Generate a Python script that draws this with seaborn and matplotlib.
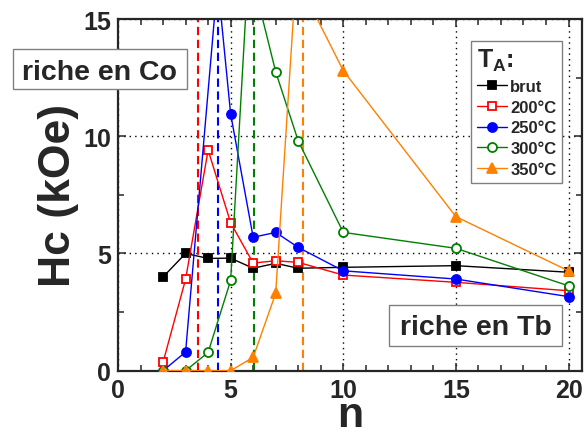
import numpy as np
import pandas as pd
import matplotlib
matplotlib.use("Agg")
import matplotlib.pyplot as plt
import seaborn as sns
from matplotlib.patches import Rectangle
from matplotlib.ticker import MultipleLocator

# Hc (kOe) vs n, for each annealing temperature
n_brut = [2, 3, 4, 5, 6, 7, 8, 10, 15, 20]
hc_brut = [4.0, 5.0, 4.79, 4.8, 4.37, 4.58, 4.37, 4.41, 4.48, 4.2]

n_200 = [2, 3, 4, 5, 6, 7, 8, 10, 15, 20]
hc_200 = [0.36, 3.9, 9.41, 6.31, 4.59, 4.69, 4.62, 4.08, 3.77, 3.41]

n_250 = [2, 3, 4.42, 5, 6, 7, 8, 10, 15, 20]
hc_250 = [0.0, 0.8, 16.6, 10.95, 5.69, 5.9, 5.26, 4.26, 3.91, 3.16]

n_300 = [2, 3, 4, 5, 5.8, 7, 8, 10, 15, 20]
hc_300 = [0.0, 0.0, 0.78, 3.85, 17.4, 12.75, 9.8, 5.9, 5.22, 3.62]

n_350 = [2, 3, 4, 5, 6, 7, 7.9, 10, 15, 20]
hc_350 = [0.0, 0.0, 0.0, 0.0, 0.57, 3.3, 16.8, 12.8, 6.57, 4.26]

labels = ["brut", "200°C", "250°C", "300°C", "350°C"]
colors = ["black", "#FF0000", "#0000FF", "#008000", "#FF8000"]
markers = ["s", "s", "o", "o", "^"]
filled = [True, False, True, False, True]
msizes = [6, 6, 6.5, 6.5, 7]

# compensation composition for each anneal (dashed lines)
n_comp = [3.54, 4.46, 6.03, 8.2]
comp_colors = ["#FF0000", "#0000FF", "#008000", "#FF8000"]

series = [(n_brut, hc_brut), (n_200, hc_200), (n_250, hc_250),
          (n_300, hc_300), (n_350, hc_350)]

sns.set_style("ticks")
plt.rcParams["font.family"] = ["Liberation Sans", "DejaVu Sans"]
plt.rcParams["font.weight"] = "bold"
plt.rcParams["mathtext.fontset"] = "custom"
plt.rcParams["mathtext.bf"] = "Liberation Sans:bold"
plt.rcParams["mathtext.rm"] = "Liberation Sans:bold"
plt.rcParams["mathtext.default"] = "bf"

fig = plt.figure(figsize=(5.86, 4.35), dpi=100)
ax = fig.add_axes([0.2014, 0.1455, 0.7918, 0.8085])

for xv, c in zip(n_comp, comp_colors):
    ln = ax.axvline(xv, color=c, lw=1.5, zorder=1)
    ln.set_dashes([4, 2.2])

for (x, y), lab, c, m, f, ms in zip(series, labels, colors, markers, filled, msizes):
    df = pd.DataFrame({"n": x, "Hc": y})
    sns.lineplot(data=df, x="n", y="Hc", ax=ax, color=c, lw=1.0,
                 marker=m, markersize=ms, markeredgecolor=c,
                 markerfacecolor=c if f else "white", markeredgewidth=1.3,
                 label=lab, zorder=3)

ax.set_xlim(0, 20.6)
ax.set_ylim(0, 15)
ax.xaxis.set_major_locator(MultipleLocator(5))
ax.xaxis.set_minor_locator(MultipleLocator(1))
ax.yaxis.set_major_locator(MultipleLocator(5))
ax.yaxis.set_minor_locator(MultipleLocator(2.5))
ax.grid(True, which="major", color="black", lw=1.0, linestyle=(0, (1, 3)))
ax.set_axisbelow(True)

ax.tick_params(which="both", direction="in", top=True, right=True, width=1.1)
ax.tick_params(which="major", length=6, labelsize=18, pad=5)
ax.tick_params(which="minor", length=4)
for lbl in ax.get_xticklabels() + ax.get_yticklabels():
    lbl.set_fontweight("bold")
for sp in ax.spines.values():
    sp.set_linewidth(1.6)

ax.set_xlabel("n", fontsize=31, fontweight="bold")
ax.xaxis.label.set_va("baseline")
ax.xaxis.set_label_coords(0.5, -0.157)
ax.set_ylabel("Hc (kOe)", fontsize=32, fontweight="bold", labelpad=3)

leg = ax.legend(title="T$_A$:", loc="upper right", bbox_to_anchor=(0.9575, 0.9366),
                borderaxespad=0, fancybox=False, edgecolor="#808080",
                framealpha=1, fontsize=12, title_fontsize=18,
                handlelength=1.8, labelspacing=0.34, handletextpad=0.2,
                borderpad=0.35, alignment="left")
leg.get_frame().set_linewidth(1.0)
for t in leg.get_texts():
    t.set_fontweight("bold")
leg.get_title().set_fontweight("bold")

# framed annotations
fig.patches.append(Rectangle((0.0217, 0.7931), 0.298, 0.092, transform=fig.transFigure,
                             facecolor="white", edgecolor="#808080", lw=1.0, zorder=9))
fig.text(0.1706, 0.816, "riche en Co", fontsize=20.5, fontweight="bold",
         ha="center", va="baseline", zorder=10)
fig.patches.append(Rectangle((0.6643, 0.203), 0.2942, 0.0936, transform=fig.transFigure,
                             facecolor="white", edgecolor="#808080", lw=1.0, zorder=9))
fig.text(0.8114, 0.2299, "riche en Tb", fontsize=20.5, fontweight="bold",
         ha="center", va="baseline", zorder=10)

fig.savefig("out.png", dpi=100)
